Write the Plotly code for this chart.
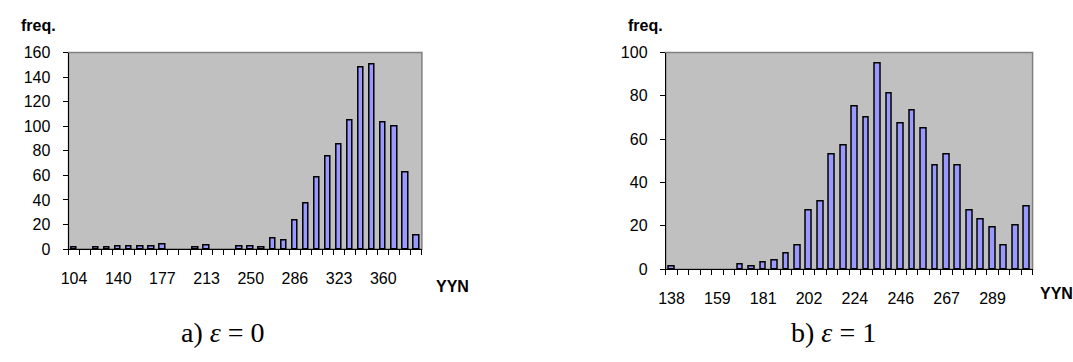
import plotly.graph_objects as go

W, H = 1073, 362

# Panel a): epsilon = 0
a_ticks = [104, 140, 177, 213, 250, 286, 323, 360]
a_freq = [1, 0, 1, 1, 2, 2, 2, 2, 4, 0, 0, 1, 3, 0, 0, 2,
          2, 1, 9, 7, 23, 37, 58, 75, 85, 105, 148, 150, 103, 100, 62, 11]

# Panel b): epsilon = 1
b_ticks = [138, 159, 181, 202, 224, 246, 267, 289]
b_freq = [1, 0, 0, 0, 0, 0, 2, 1, 3, 4, 7, 11, 27, 31, 53, 57,
          75, 70, 95, 81, 67, 73, 65, 48, 53, 48, 27, 23, 19, 11, 20, 29]

FONT = "Liberation Sans"
BAR_FILL = "#9999FF"
PLOT_BG = "#C0C0C0"
FRAME = "#808080"


def px_x(p):
    return p / W


def px_y(p):
    return 1 - p / H


fig = go.Figure()

for freq, xa, ya in [(a_freq, "x", "y"), (b_freq, "x2", "y2")]:
    # empty bins are left blank instead of drawing a flat outline
    fig.add_trace(go.Bar(
        x=list(range(len(freq))), y=[v if v else None for v in freq], width=0.5,
        marker=dict(color=BAR_FILL, line=dict(color="black", width=1.5)),
        xaxis=xa, yaxis=ya, showlegend=False, hoverinfo="skip",
    ))


def x_axis(domain, anchor, n, labels, standoff):
    bounds = [i - 0.5 for i in range(n + 1)]
    return dict(
        domain=domain, anchor=anchor, range=[-0.5, n - 0.5],
        tickmode="array", tickvals=[4 * k for k in range(len(labels))],
        ticktext=[str(v) for v in labels], ticks="",
        minor=dict(tickmode="array", tickvals=bounds, ticks="outside",
                   ticklen=5, tickcolor="black", tickwidth=1, showgrid=False),
        showline=True, linecolor="black", linewidth=1,
        showgrid=False, zeroline=False, ticklabelstandoff=standoff,
        tickfont=dict(family=FONT, size=16, color="black"),
        fixedrange=True,
    )


def x_cross(over, anchor, n):
    bounds = [i - 0.5 for i in range(n + 1)]
    return dict(
        overlaying=over, anchor=anchor, range=[-0.5, n - 0.5], side="bottom",
        tickmode="array", tickvals=bounds, ticks="inside", ticklen=5,
        tickcolor="black", tickwidth=1, showticklabels=False,
        showline=False, showgrid=False, zeroline=False, fixedrange=True,
    )


def y_axis(domain, anchor, top):
    return dict(
        domain=domain, anchor=anchor, range=[0, top], dtick=20, tick0=0,
        ticks="outside", ticklen=5, tickcolor="black",
        showline=True, linecolor="black", linewidth=1,
        showgrid=False, zeroline=False, ticklabelstandoff=9,
        tickfont=dict(family=FONT, size=16, color="black"),
        fixedrange=True,
    )


n = len(a_freq)
fig.update_layout(
    width=W, height=H, margin=dict(l=0, r=0, t=0, b=0),
    paper_bgcolor="white", plot_bgcolor=PLOT_BG, bargap=0,
    xaxis=x_axis([px_x(61), px_x(417)], "y", n, a_ticks, 15),
    yaxis=y_axis([px_y(253), px_y(46.7)], "x", 160),
    xaxis2=x_axis([px_x(662.7), px_x(1032.3)], "y2", len(b_freq), b_ticks, 15),
    yaxis2=y_axis([px_y(274), px_y(46.7)], "x2", 100),
    xaxis3=x_cross("x", "y", n),
    xaxis4=x_cross("x2", "y2", len(b_freq)),
)

# grey frame on the top and right edges of each plot area
for xr, yr in [("x domain", "y domain"), ("x2 domain", "y2 domain")]:
    fig.add_shape(type="rect", xref=xr, yref=yr, x0=0, x1=1, y0=0, y1=1,
                  line=dict(color=FRAME, width=1.5), fillcolor="rgba(0,0,0,0)",
                  layer="below")


def label(text, x, y, size=15, bold=True, family=FONT):
    fig.add_annotation(
        text=f"<b>{text}</b>" if bold else text,
        x=px_x(x), y=px_y(y), xref="paper", yref="paper",
        xanchor="center", yanchor="middle", showarrow=False,
        font=dict(family=family, size=size, color="black"),
    )


label("freq.", 31, 18, size=16)
label("freq.", 642, 18, size=16)
label("YYN", 447.5, 292, size=16)
label("YYN", 1056, 300, size=16)

label("a) <i>ε</i> = 0", 217, 341, size=28, bold=False, family="Liberation Serif")
label("b) <i>ε</i> = 1", 832, 341, size=28, bold=False, family="Liberation Serif")

fig.write_html("out.html")
